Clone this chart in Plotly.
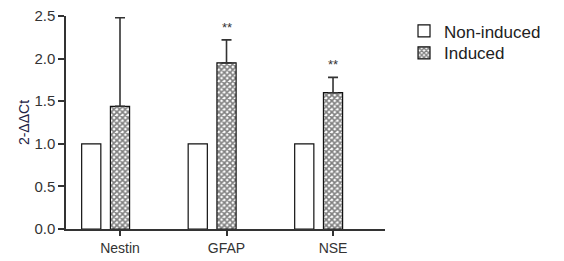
import plotly.graph_objects as go

categories = ["Nestin", "GFAP", "NSE"]
non_induced = [1.0, 1.0, 1.0]
induced = [1.44, 1.95, 1.60]
induced_err = [1.04, 0.27, 0.18]
significance = ["", "**", "**"]
y_ticks = [0.0, 0.5, 1.0, 1.5, 2.0, 2.5]

ink = "#333333"
font = "Arial, Liberation Sans, sans-serif"

fig = go.Figure()
fig.add_trace(go.Bar(
    x=categories, y=non_induced, name="Non-induced", legend="legend",
    width=0.18, offset=-0.36,
    marker=dict(color="white", line=dict(color="#111111", width=1.2)),
))
fig.add_trace(go.Bar(
    x=categories, y=induced, name="Induced", legend="legend2",
    width=0.18, offset=-0.09,
    marker=dict(color="white", line=dict(color="#111111", width=1.2),
                pattern=dict(shape="x", size=4, solidity=0.65,
                             fgcolor="#000000", bgcolor="white")),
    error_y=dict(type="data", array=induced_err, arrayminus=[0]*3,
                 symmetric=False, color=ink, thickness=1.6, width=5),
))

for c, v, e, s in zip(categories, induced, induced_err, significance):
    if s:
        fig.add_annotation(x=c, y=v + e, text=s, showarrow=False,
                           yanchor="bottom", yshift=3,
                           font=dict(size=13, color=ink, family=font))

leg_common = dict(x=1.0596, xanchor="left", yanchor="middle",
                  font=dict(size=17, color="#222222", family=font),
                  bgcolor="rgba(0,0,0,0)")

fig.update_layout(
    width=564, height=261,
    margin=dict(l=66, r=179, t=16, b=32, autoexpand=False),
    plot_bgcolor="white", paper_bgcolor="white",
    barmode="overlay",
    showlegend=True,
    legend=dict(y=0.928, **leg_common),
    legend2=dict(y=0.825, **leg_common),
    font=dict(family=font, color=ink),
)
fig.update_xaxes(
    type="category", range=[-0.507, 2.488], automargin=False,
    showline=True, linecolor=ink, linewidth=1.5,
    ticks="outside", ticklen=5, tickwidth=1.5, tickcolor=ink,
    tickfont=dict(size=14, color=ink, family=font),
    showgrid=False, zeroline=False,
)
fig.update_yaxes(
    range=[0, 2.5], tickvals=y_ticks, automargin=False,
    ticktext=[f"{t:.1f}" for t in y_ticks],
    showline=True, linecolor=ink, linewidth=1.5,
    ticks="outside", ticklen=6, tickwidth=1.5, tickcolor=ink,
    tickfont=dict(size=15, color=ink, family=font),
    showgrid=False, zeroline=False,
    title=dict(text="2-ΔΔCt", font=dict(size=14, color="#222244", family=font), standoff=1),
)

fig.write_html("out.html", config={"displayModeBar": False},
               post_script="document.body.style.margin='0';")
